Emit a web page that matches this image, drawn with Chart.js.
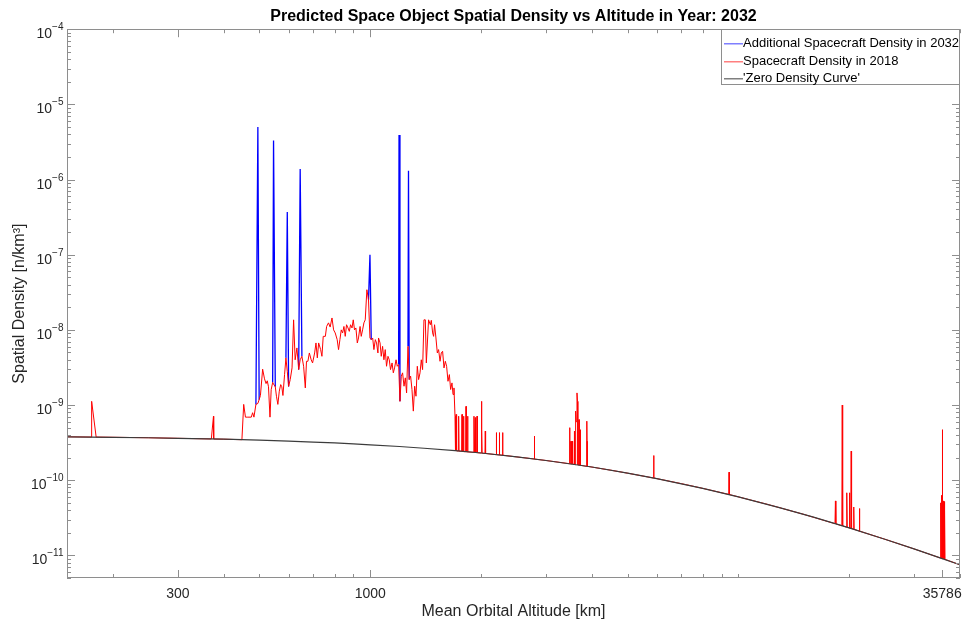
<!DOCTYPE html>
<html>
<head>
<meta charset="utf-8">
<script src="https://cdn.jsdelivr.net/npm/chart.js@4"></script>
<style>
  html, body { margin: 0; padding: 0; background: #fff; }
  canvas { display: block; }
</style>
</head>
<body>
<canvas id="chart" width="962" height="626"></canvas>
<script>
// altitude in km, spatial density in n/km^3

// 'Zero Density Curve'
const zeroAlt = [150, 200, 250, 300, 400, 500, 600, 700, 800, 900,
  1000, 1200, 1400, 1700, 2000, 2500, 3000, 4000, 5000, 6000,
  8000, 10000, 13000, 16000, 20000, 25000, 30000, 35786, 40000];
const zeroDens = [3.78e-10, 3.72e-10, 3.67e-10, 3.61e-10, 3.51e-10, 3.41e-10, 3.31e-10, 3.22e-10, 3.13e-10, 3.04e-10,
  2.96e-10, 2.81e-10, 2.66e-10, 2.47e-10, 2.30e-10, 2.04e-10, 1.83e-10, 1.50e-10, 1.24e-10, 1.05e-10,
  7.79e-11, 6.01e-11, 4.29e-11, 3.22e-11, 2.32e-11, 1.64e-11, 1.22e-11, 9.06e-12, 7.49e-12];

// Spacecraft density in 2018
const redAlt = [150, 174.5, 175, 180, 250, 300, 370, 375, 375.5, 400,
  448, 453, 458, 465, 475, 479, 483, 489, 495, 499,
  503, 510, 516, 521, 525, 529, 534, 538, 543, 546,
  552, 556, 561, 566, 571, 575, 579, 585, 590, 595,
  600, 606, 613, 619, 625, 632, 639, 645, 652, 659,
  666, 671, 677, 683, 691, 697, 706, 712, 718, 724,
  733, 739, 745, 755, 761, 770, 778, 787, 795, 803,
  813, 820, 827, 834, 841, 848, 855, 862, 870, 877,
  884, 892, 899, 906, 914, 922, 929, 938, 945, 953,
  961, 969, 979, 989, 998, 1006, 1015, 1023, 1032, 1040,
  1049, 1053, 1063, 1071, 1080, 1089, 1098, 1107, 1117, 1126,
  1135, 1146, 1155, 1164, 1175, 1184, 1194, 1204, 1214, 1224,
  1235, 1245, 1255, 1266, 1276, 1287, 1298, 1309, 1320, 1331,
  1342, 1353, 1365, 1376, 1387, 1399, 1411, 1420, 1440, 1456,
  1465, 1477, 1486, 1495, 1508, 1521, 1533, 1547, 1559, 1572,
  1586, 1599, 1612, 1626, 1640, 1653, 1667, 1678, 1688, 1699,
  1704, 1710, 1716, 1734, 1738, 1742, 1771, 1775, 1779, 1788,
  1792, 1796, 1816, 1820, 1824, 1834, 1838, 1842, 1909, 1913,
  1917, 1925, 1929, 1933, 1946, 1950, 1954, 2001, 2004, 2007,
  2010, 2013, 2049, 2053, 2057, 2196, 2200, 2204, 2238, 2242,
  2246, 2284, 2288, 2292, 2500, 2786, 2791, 2796, 3000, 3475,
  3480, 3486, 3500, 3505, 3512, 3520, 3527, 3540, 3546, 3578,
  3583, 3590, 3607, 3613, 3625, 3644, 3656, 3664, 3685, 3690,
  3696, 3715, 3720, 3726, 3870, 3875, 3880, 3885, 4500, 5000,
  5880, 5888, 5896, 7000, 8000, 9420, 9435, 9450, 12000, 15000,
  18300, 18350, 18400, 19100, 19150, 19200, 19650, 19700, 19760, 19980,
  20030, 20090, 20200, 20250, 20300, 20530, 20580, 20630, 21270, 21320,
  21370, 25000, 30000, 35300, 35400, 35450, 35500, 35550, 35600, 35650,
  35700, 35750, 35786, 35820, 35870, 35920, 35970, 36020, 36070, 36120,
  36200, 36280, 36350, 36420, 40000];
const redDens = [3.78e-10, 3.75e-10, 1.12e-9, 3.75e-10, 3.67e-10, 3.61e-10, 3.54e-10, 7.1e-10, 3.53e-10, 3.51e-10,
  3.46e-10, 1.02e-9, 6.9e-10, 6.9e-10, 6.9e-10, 7.9e-10, 6.9e-10, 1.02e-9, 1.05e-9, 1.18e-9,
  1.34e-9, 3.0e-9, 2.23e-9, 1.93e-9, 2.1e-9, 1.75e-9, 6.9e-10, 1.6e-9, 2.0e-9, 1.9e-9,
  1.75e-9, 1.31e-9, 1.02e-9, 1.53e-9, 1.87e-9, 1.75e-9, 1.34e-9, 2.54e-9, 4.24e-9, 2.81e-9,
  1.77e-9, 2.18e-9, 3.12e-9, 1.36e-8, 4.0e-9, 5.75e-9, 2.96e-9, 4.0e-9, 4.45e-9, 3.28e-9,
  1.69e-9, 3.82e-9, 3.82e-9, 4.93e-9, 4.0e-9, 3.63e-9, 4.93e-9, 6.7e-9, 4.24e-9, 6.7e-9,
  5.46e-9, 4.45e-9, 8.2e-9, 8.2e-9, 1.11e-8, 1.24e-8, 1.09e-8, 1.44e-8, 1.0e-8, 9.1e-9,
  7.41e-9, 5.46e-9, 7.41e-9, 1.0e-8, 9.1e-9, 1.11e-8, 8.2e-9, 1.17e-8, 1.06e-8, 9.55e-9,
  1.17e-8, 1.06e-8, 1.36e-8, 1.0e-8, 1.06e-8, 6.7e-9, 7.8e-9, 1.11e-8, 8.2e-9, 1.0e-8,
  1.24e-8, 1.36e-8, 3.42e-8, 2.52e-8, 7.8e-9, 7.41e-9, 7.8e-9, 5.46e-9, 7.41e-9, 6.7e-9,
  4.93e-9, 7.8e-9, 6.7e-9, 4.45e-9, 6.04e-9, 4.0e-9, 5.46e-9, 3.28e-9, 4.45e-9, 4.0e-9,
  2.96e-9, 3.63e-9, 2.68e-9, 3.12e-9, 4.0e-9, 3.28e-9, 3.45e-9, 1.12e-9, 2.42e-9, 2.68e-9,
  1.78e-9, 2.3e-9, 1.45e-9, 6.04e-9, 2.18e-9, 2.42e-9, 1.61e-9, 8.3e-10, 1.78e-9, 1.31e-9,
  3.28e-9, 2.18e-9, 2.68e-9, 4.0e-9, 2.96e-9, 1.36e-8, 1.36e-8, 3.63e-9, 1.36e-8, 1.17e-8,
  1.34e-8, 9.1e-9, 8.2e-9, 1.17e-8, 7.8e-9, 4.93e-9, 5.46e-9, 3.82e-9, 4.93e-9, 5.19e-9,
  3.12e-9, 3.82e-9, 3.28e-9, 2.07e-9, 2.54e-9, 1.61e-9, 1.97e-9, 1.38e-9, 1.69e-9, 7.1e-10,
  2.47e-10, 7.5e-10, 2.46e-10, 2.44e-10, 7.1e-10, 2.44e-10, 2.42e-10, 7.5e-10, 2.41e-10, 2.41e-10,
  7.1e-10, 2.40e-10, 2.39e-10, 9.6e-10, 2.39e-10, 2.38e-10, 7.1e-10, 2.38e-10, 2.35e-10, 7.1e-10,
  2.34e-10, 2.34e-10, 6.8e-10, 2.34e-10, 2.33e-10, 7.1e-10, 2.32e-10, 2.30e-10, 9.0e-10, 1.12e-9,
  4.7e-10, 2.29e-10, 2.27e-10, 4.5e-10, 2.27e-10, 2.19e-10, 4.3e-10, 2.19e-10, 2.17e-10, 4.3e-10,
  2.17e-10, 2.15e-10, 4.3e-10, 2.15e-10, 2.04e-10, 1.92e-10, 3.86e-10, 1.91e-10, 1.83e-10, 1.66e-10,
  5.0e-10, 1.66e-10, 1.65e-10, 3.3e-10, 1.65e-10, 3.3e-10, 1.64e-10, 3.3e-10, 1.64e-10, 1.62e-10,
  4.5e-10, 1.62e-10, 1.61e-10, 8.3e-10, 6.0e-10, 1.45e-9, 1.12e-9, 1.60e-10, 1.59e-10, 6.4e-10,
  1.59e-10, 1.58e-10, 4.7e-10, 1.58e-10, 1.53e-10, 6.1e-10, 3.3e-10, 1.53e-10, 1.36e-10, 1.24e-10,
  1.07e-10, 2.13e-10, 1.07e-10, 9.0e-11, 7.79e-11, 6.47e-11, 1.28e-10, 6.45e-11, 4.77e-11, 3.53e-11,
  2.64e-11, 5.3e-11, 2.63e-11, 2.48e-11, 1.0e-9, 2.47e-11, 2.38e-11, 6.8e-11, 2.36e-11, 2.33e-11,
  6.8e-11, 2.31e-11, 2.29e-11, 2.44e-10, 2.27e-11, 2.24e-11, 4.4e-11, 2.22e-11, 2.11e-11, 4.2e-11,
  2.10e-11, 1.64e-11, 1.22e-11, 9.27e-12, 5.0e-11, 9.2e-12, 4.5e-11, 9.15e-12, 5.3e-11, 9.1e-12,
  6.3e-11, 9.08e-12, 4.7e-10, 9.05e-12, 6.4e-11, 9.0e-12, 5.3e-11, 8.97e-12, 5.2e-11, 8.95e-12,
  5.2e-11, 8.9e-12, 4.0e-11, 8.85e-12, 7.49e-12];

// Additional spacecraft density in 2032 (null = break between spikes)
const blueAlt = [489, 495, 499, 499, 543, 546, 552, 552, 590, 595, 600, 600,
  639, 645, 652, 652, 989, 998, 1006, 1006, 1194, 1197, 1204, 1204, 1266, 1270, 1276];
const blueDens = [1.02e-9, 5.0e-6, 1.18e-9, null, 2.0e-9, 3.3e-6, 1.75e-9, null, 4.24e-9, 3.7e-7, 1.77e-9, null,
  2.96e-9, 1.38e-6, 4.45e-9, null, 2.52e-8, 1.0e-7, 7.41e-9, null, 3.45e-9, 3.9e-6, 1.12e-9, null, 6.04e-9, 1.31e-6, 2.18e-9];

const xTickValues = [300, 1000, 35786];
const xTickLabels = ['300', '1000', '35786'];
const yTickValues = [1e-11, 1e-10, 1e-9, 1e-8, 1e-7, 1e-6, 1e-5, 1e-4];
const yTickExponents = ['-11', '-10', '-9', '-8', '-7', '-6', '-5', '-4']; // drawn as 10^exp

const seriesLabels = ['Additional Spacecraft Density in 2032', 'Spacecraft Density in 2018', "'Zero Density Curve'"];
const seriesColors = ['#0000ff', '#ff0000', '#3c3c3c'];
const legendColors = ['#7f7fff', '#ff7f7f', '#7f7f7f'];

const toPoints = (xs, ys) => xs.map((x, i) => ({ x: x, y: ys[i] }));

const axisColor = '#8e8e8e';
const textColor = '#262626';
const FONT = "'Liberation Sans', Arial, Helvetica, sans-serif";

// MATLAB-style box with inward ticks on all four sides, plus 10^n labels
const boxTicks = {
  id: 'boxTicks',
  afterDatasetsDraw(chart) {
    const { ctx, chartArea: a, scales } = chart;
    const x = scales.x, y = scales.y;
    ctx.save();
    ctx.strokeStyle = axisColor;
    ctx.lineWidth = 1;
    ctx.beginPath();
    x.ticks.forEach(t => {
      const px = Math.round(x.getPixelForValue(t.value)) + 0.5;
      const len = t.major ? 8 : 4;
      ctx.moveTo(px, a.bottom); ctx.lineTo(px, a.bottom - len);
      ctx.moveTo(px, a.top); ctx.lineTo(px, a.top + len);
    });
    y.ticks.forEach(t => {
      const py = Math.round(y.getPixelForValue(t.value)) + 0.5;
      const len = t.major ? 8 : 4;
      ctx.moveTo(a.left, py); ctx.lineTo(a.left + len, py);
      ctx.moveTo(a.right, py); ctx.lineTo(a.right - len, py);
    });
    ctx.stroke();
    ctx.strokeRect(Math.round(a.left) + 0.5, Math.round(a.top) + 0.5,
      Math.round(a.right - a.left) - 1, Math.round(a.bottom - a.top) - 1);

    // y tick labels with superscript exponents
    ctx.fillStyle = textColor;
    ctx.textAlign = 'right';
    ctx.textBaseline = 'alphabetic';
    const xr = a.left - 3.5;
    yTickValues.forEach((v, i) => {
      const py = y.getPixelForValue(v);
      const exp = yTickExponents[i].replace('-', '\u2212');
      ctx.font = '10px ' + FONT;
      const ew = ctx.measureText(exp).width;
      ctx.fillText(exp, xr, py + 1);
      ctx.font = '14px ' + FONT;
      ctx.fillText('10', xr - ew, py + 9);
    });
    ctx.restore();
  }
};

// legend box in the top right corner of the axes
const boxLegend = {
  id: 'boxLegend',
  afterDraw(chart) {
    const { ctx, chartArea: a } = chart;
    const w = 239, h = 56;
    const left = Math.round(a.right) - w, top = Math.round(a.top);
    ctx.save();
    ctx.fillStyle = '#fff';
    ctx.fillRect(left, top, w, h);
    ctx.strokeStyle = axisColor;
    ctx.lineWidth = 1;
    ctx.strokeRect(left + 0.5, top + 0.5, w - 1, h - 1);
    ctx.font = '13px ' + FONT;
    ctx.textBaseline = 'middle';
    ctx.textAlign = 'left';
    seriesLabels.forEach((label, i) => {
      const yy = Math.round(top + 14 + i * 17.5);
      ctx.fillStyle = legendColors[i];
      ctx.fillRect(left + 3, yy, 19, 1.5);
      ctx.fillStyle = '#000';
      ctx.fillText(label, left + 22, yy + 0.5);
    });
    ctx.restore();
  }
};

Chart.defaults.font.family = FONT;

new Chart(document.getElementById('chart'), {
  type: 'scatter',
  data: {
    datasets: [
      {
        label: seriesLabels[0],
        data: toPoints(blueAlt, blueDens),
        showLine: true, borderColor: seriesColors[0], borderWidth: 1.3,
        pointRadius: 0, spanGaps: false, order: 3
      },
      {
        label: seriesLabels[1],
        data: toPoints(redAlt, redDens),
        showLine: true, borderColor: seriesColors[1], borderWidth: 1,
        pointRadius: 0, order: 2
      },
      {
        label: seriesLabels[2],
        data: toPoints(zeroAlt, zeroDens),
        showLine: true, borderColor: seriesColors[2], borderWidth: 1.2,
        pointRadius: 0, order: 1
      }
    ]
  },
  options: {
    responsive: false,
    devicePixelRatio: 1,
    animation: false,
    layout: { padding: { left: 0, right: 2, top: 0, bottom: 0 } },
    plugins: {
      legend: { display: false },
      tooltip: { enabled: false },
      title: {
        display: true,
        fullSize: false,
        text: 'Predicted Space Object Spatial Density vs Altitude in Year: 2032',
        color: '#000',
        font: { size: 16, weight: 'bold' },
        padding: { top: 7, bottom: 3 }
      }
    },
    scales: {
      x: {
        type: 'logarithmic',
        position: 'bottom',
        min: 150,
        max: 40000,
        grid: { display: false, drawTicks: false },
        border: { display: false },
        ticks: {
          autoSkip: false, maxRotation: 0, padding: 8,
          color: textColor, font: { size: 14 },
          callback: v => {
            const i = xTickValues.indexOf(v);
            return i >= 0 ? xTickLabels[i] : '';
          }
        },
        title: {
          display: true, text: 'Mean Orbital Altitude [km]',
          color: textColor, font: { size: 16 }, padding: { top: 0, bottom: 5 }
        },
        afterBuildTicks: scale => {
          const vals = [];
          for (let d = 100; d <= 10000; d *= 10) {
            for (let m = 1; m <= 9; m++) {
              const v = d * m;
              if (v >= 150 && v <= 40000) vals.push(v);
            }
          }
          xTickValues.forEach(v => { if (!vals.includes(v)) vals.push(v); });
          vals.sort((p, q) => p - q);
          scale.ticks = vals.map(v => ({ value: v, major: xTickValues.includes(v) }));
        },
        afterFit: scale => {
          scale.height = 48;
          scale.paddingLeft = 0;
          scale.paddingRight = 0;
        }
      },
      y: {
        type: 'logarithmic',
        min: 5e-12,
        max: 1e-4,
        grid: { display: false, drawTicks: false },
        border: { display: false },
        ticks: { autoSkip: false, display: true, callback: () => '' },
        title: {
          display: true, text: 'Spatial Density [n/km\u00B3]',
          color: textColor, font: { size: 16 }, padding: { top: 10, bottom: 0 }
        },
        afterBuildTicks: scale => {
          const vals = [];
          for (let e = -12; e <= -5; e++) {
            for (let m = 1; m <= 9; m++) {
              const v = m * Math.pow(10, e);
              if (v >= 5e-12 && v <= 1.0001e-4) vals.push({ value: v, major: m === 1 });
            }
          }
          vals.push({ value: 1e-4, major: true });
          scale.ticks = vals;
        },
        afterFit: scale => {
          scale.width = 67;
          scale.paddingTop = 0;
          scale.paddingBottom = 0;
        }
      }
    }
  },
  plugins: [boxTicks, boxLegend]
});
</script>
</body>
</html>
